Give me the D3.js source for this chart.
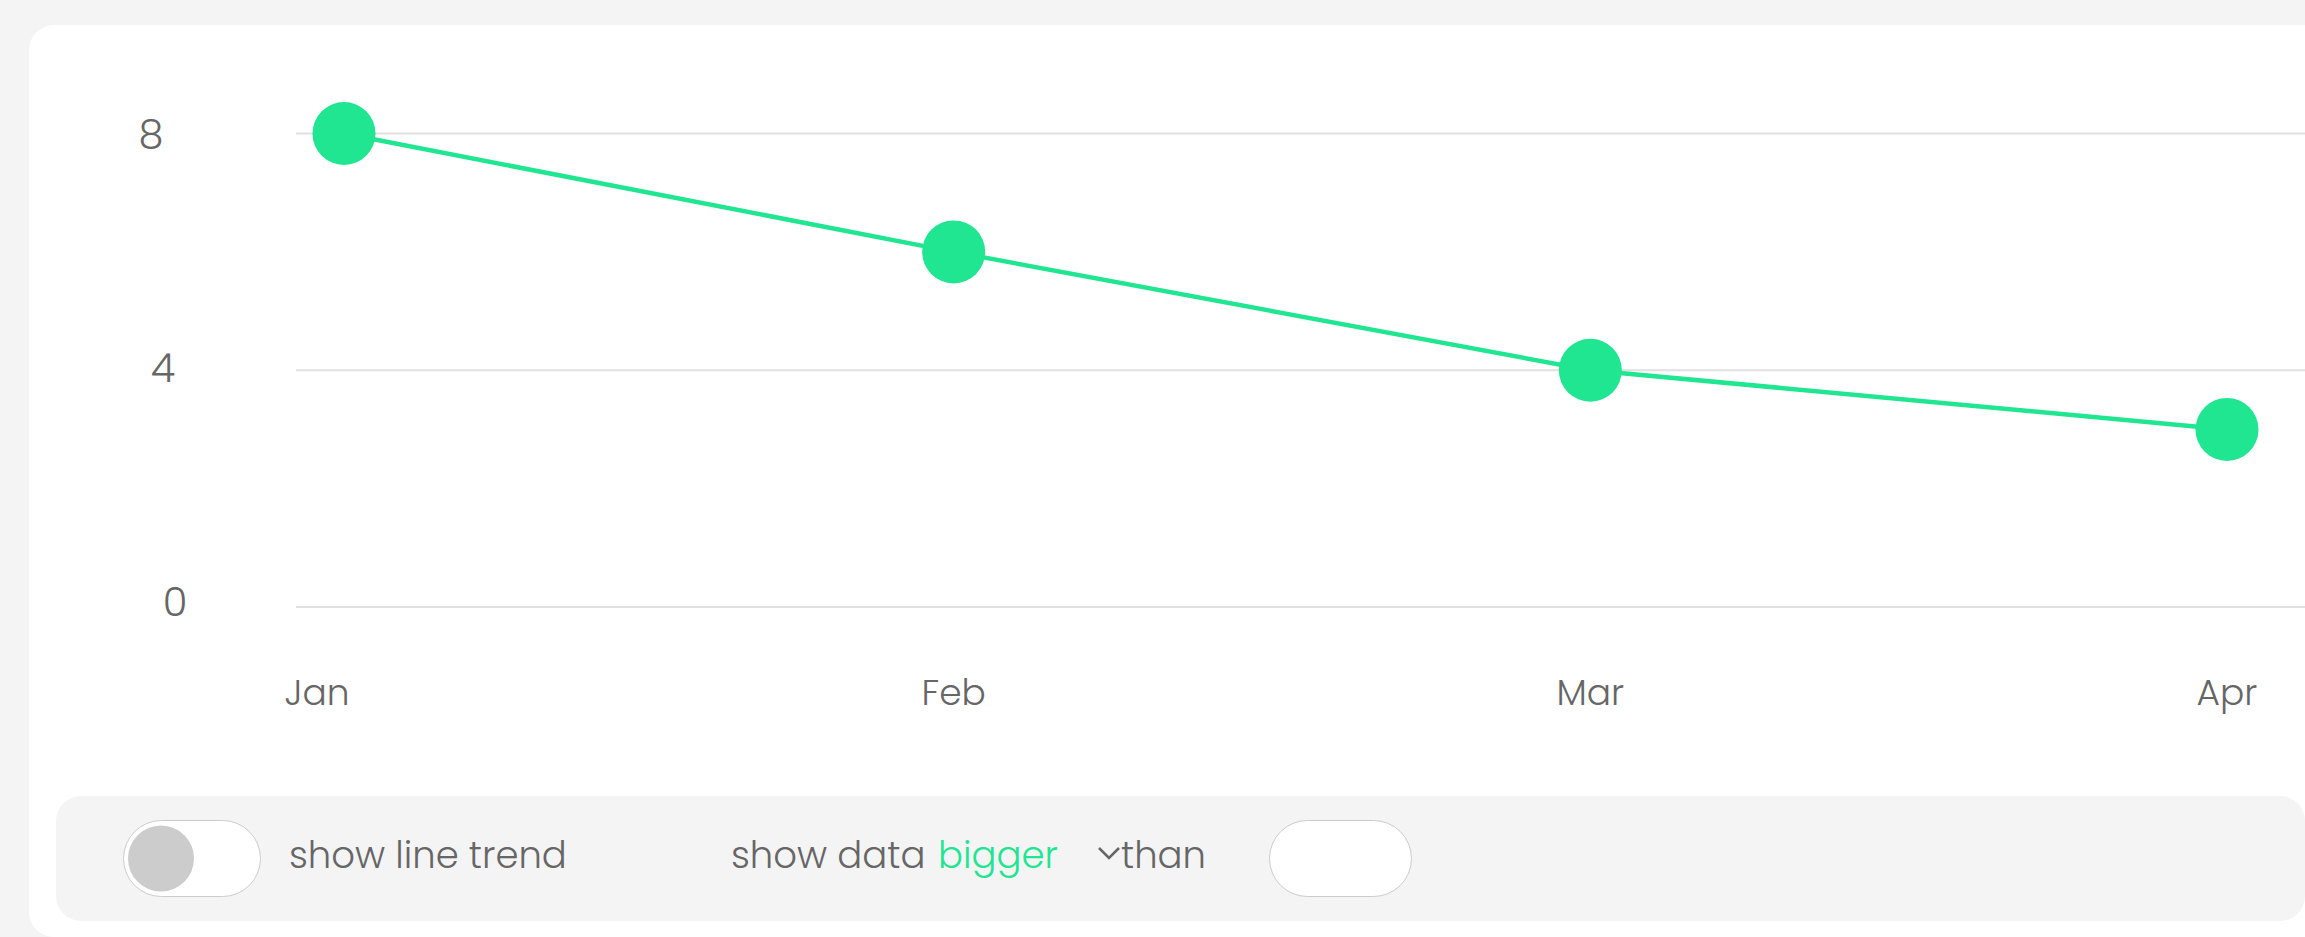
<!DOCTYPE html>
<html>
<head>
<meta charset="utf-8">
<script src="https://cdnjs.cloudflare.com/ajax/libs/d3/7.8.5/d3.min.js"></script>
<style>
  body {
    margin: 0;
    background: #f4f4f4;
    font-family: Poppins, Inter, sans-serif;
    font-weight: 300;
    overflow: hidden;
  }
  svg text {
    fill: #666;
  }
  .grid line {
    stroke: #e0e0e0;
    stroke-width: 2px;
  }
  .trend {
    fill: none;
    stroke: #20e591;
    stroke-width: 4.5px;
  }
  .dot {
    fill: #20e591;
  }
</style>
</head>
<body>
<script>
  // chart values
  var months = ["Jan", "Feb", "Mar", "Apr"];
  var values = [8, 6, 4, 3];
  var yTicks = [0, 4, 8];

  var W = 2305, H = 937;
  var r = 31.5;

  var svg = d3.select("body").append("svg")
      .attr("width", W)
      .attr("height", H);

  // white card
  svg.append("rect")
      .attr("x", 29).attr("y", 25)
      .attr("width", W + 40).attr("height", H - 25)
      .attr("rx", 25)
      .attr("fill", "#fff");

  var x = d3.scalePoint()
      .domain(months)
      .range([317, 2227]);

  var y = d3.scaleLinear()
      .domain([0, 8])
      .range([607, 133.5]);

  // y labels drift a little to the left as they go up
  var yLabelX = d3.scaleLinear().domain([0, 8]).range([175, 151]);

  // keep the dots inside the plot area
  var plotLeft = 296;
  var cx = m => Math.max(x(m), plotLeft + 48);

  var grid = svg.append("g").attr("class", "grid");
  grid.selectAll("line")
      .data(yTicks)
    .enter().append("line")
      .attr("x1", plotLeft)
      .attr("x2", W)
      .attr("y1", d => y(d))
      .attr("y2", d => y(d));

  svg.append("g").selectAll("text")
      .data(yTicks)
    .enter().append("text")
      .attr("x", d => yLabelX(d))
      .attr("y", d => y(d) - (8 - d) * 0.6)
      .attr("text-anchor", "middle")
      .attr("dominant-baseline", "central")
      .style("font-size", "40px")
      .text(d => d);

  svg.append("g").selectAll("text")
      .data(months)
    .enter().append("text")
      .attr("x", d => x(d))
      .attr("y", 705)
      .attr("text-anchor", "middle")
      .style("font-size", "36px")
      .text(d => d);

  var data = months.map((m, i) => ({month: m, value: values[i]}));

  var line = d3.line()
      .x(d => cx(d.month))
      .y(d => y(d.value));

  svg.append("path")
      .datum(data)
      .attr("class", "trend")
      .attr("d", line);

  svg.selectAll(".dot")
      .data(data)
    .enter().append("circle")
      .attr("class", "dot")
      .attr("cx", d => cx(d.month))
      .attr("cy", d => y(d.value))
      .attr("r", r);

  // controls bar
  var bar = svg.append("g");
  bar.append("rect")
      .attr("x", 56).attr("y", 796)
      .attr("width", W - 56).attr("height", 125)
      .attr("rx", 25)
      .attr("fill", "#f4f4f4");

  bar.append("rect")
      .attr("x", 123.5).attr("y", 820.5)
      .attr("width", 137).attr("height", 76)
      .attr("rx", 38)
      .attr("fill", "#fff")
      .attr("stroke", "#ccc");

  bar.append("circle")
      .attr("cx", 161).attr("cy", 858.5)
      .attr("r", 33)
      .attr("fill", "#ccc");

  bar.append("text")
      .attr("x", 289).attr("y", 868)
      .style("font-size", "37px")
      .text("show line trend");

  bar.append("text")
      .attr("x", 731).attr("y", 868)
      .style("font-size", "37px")
      .text("show data");

  bar.append("text")
      .attr("x", 938).attr("y", 868)
      .style("font-size", "37px")
      .style("fill", "#20e591")
      .text("bigger");

  bar.append("path")
      .attr("d", "M1099,848 L1109,858 L1119,848")
      .attr("fill", "none")
      .attr("stroke", "#666")
      .attr("stroke-width", 2.5);

  bar.append("text")
      .attr("x", 1121).attr("y", 868)
      .style("font-size", "37px")
      .text("than");

  bar.append("rect")
      .attr("x", 1269.5).attr("y", 820.5)
      .attr("width", 142).attr("height", 76)
      .attr("rx", 38)
      .attr("fill", "#fff")
      .attr("stroke", "#ccc");
</script>
</body>
</html>
